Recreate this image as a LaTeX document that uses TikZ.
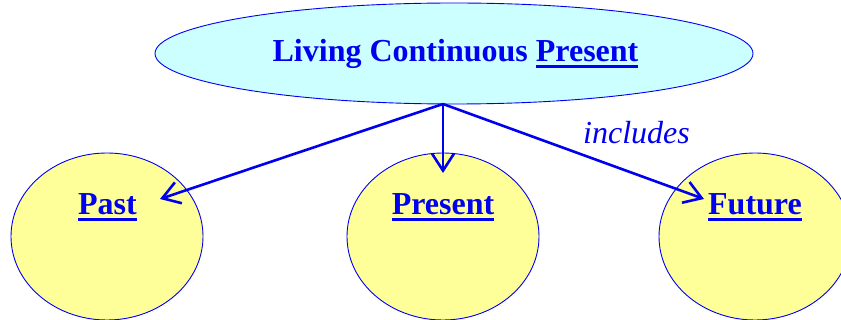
\documentclass[tikz,border=0pt]{standalone}
\usepackage{fontspec}
\setmainfont{Liberation Serif}
\usetikzlibrary{arrows.meta,shapes.geometric}
\definecolor{lcblue}{HTML}{0000F0}
\definecolor{lccyan}{HTML}{CCFFFF}
\definecolor{lcyellow}{HTML}{FFFF99}
\newcommand\myul[1]{\setbox0\hbox{#1}\rlap{\rule[-6pt]{\wd0}{3pt}}\box0}
\tikzset{
  bubble/.style={ellipse,draw=lcblue,line width=0.9pt,inner sep=0pt},
  lab/.style={text=lcblue,font=\fontsize{32}{36}\selectfont\bfseries,inner sep=0pt,anchor=base},
  rel/.style={draw=lcblue,line width=2.6pt,-{Straight Barb[length=17pt,width=22pt,line width=2.6pt]}},
}
\begin{document}
\begin{tikzpicture}[x=1pt,y=-1pt]
\useasboundingbox (0,0) rectangle (841,320);
\clip (0,0) rectangle (841,320);
\node[bubble,fill=lccyan,minimum width=598pt,minimum height=101pt] (top) at (454,53.5) {};
\node[bubble,fill=lcyellow,minimum width=192pt,minimum height=167pt] (pastc) at (107,236.5) {};
\node[bubble,fill=lcyellow,minimum width=192pt,minimum height=167pt] (presc) at (443,236.5) {};
\node[bubble,fill=lcyellow,minimum width=192pt,minimum height=167pt] (futc) at (755,236.5) {};
\node[lab] (title) at (455.5,62) {Living Continuous \myul{Present}};
\node[lab] (past) at (107.5,215) {\myul{Past}};
\node[lab] (pres) at (443,215) {\myul{Present}};
\node[lab] (fut) at (755,215) {\myul{Future}};
\coordinate (hub) at (443,104);
\coordinate (pastend) at (160,199);
\coordinate (presend) at (443,173);
\coordinate (futend) at (704,199);
\draw[rel] (hub) -- (pastend);
\draw[rel] (hub) -- (presend);
\draw[rel] (hub) -- (futend);
\node[text=lcblue,font=\fontsize{32}{36}\selectfont\itshape,inner sep=0pt,anchor=base west] (inc) at (583,144) {includes};
\end{tikzpicture}
\end{document}
